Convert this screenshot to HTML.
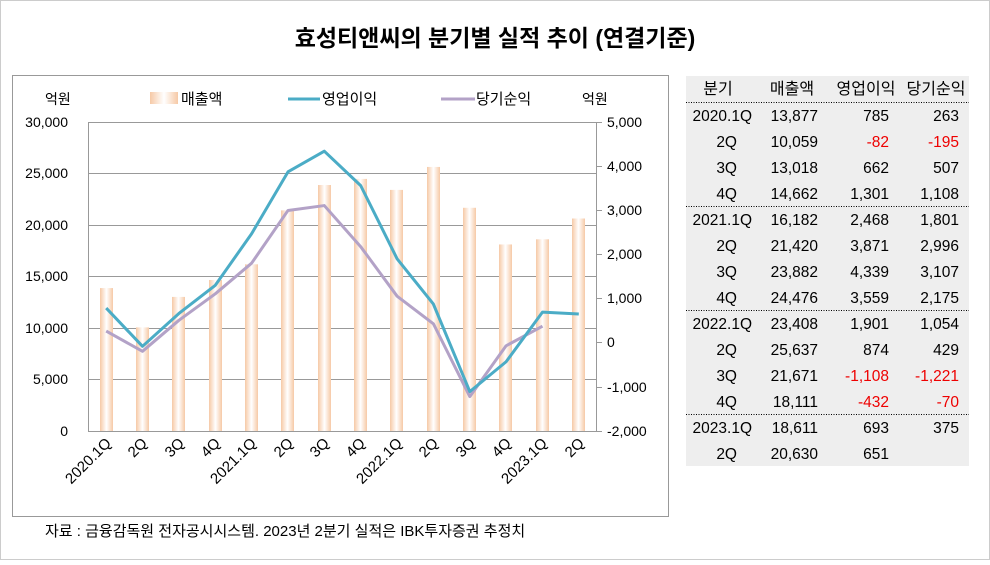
<!DOCTYPE html><html><head><meta charset="utf-8"><style>
body{margin:0;background:#fff;}
svg text{font-family:"Liberation Sans","Noto Sans CJK KR",sans-serif;}
</style></head><body>
<svg width="990" height="560" xmlns="http://www.w3.org/2000/svg">
<defs>
<linearGradient id="g" x1="0" x2="1" y1="0" y2="0">
<stop offset="0" stop-color="#f6c9a6"/><stop offset="0.5" stop-color="#fff"/><stop offset="1" stop-color="#f6c9a6"/>
</linearGradient>
</defs>
<rect x="0.5" y="0.5" width="989" height="559" fill="#fff" stroke="#ccc"/>
<text x="495" y="46" font-size="23" font-weight="bold" text-anchor="middle">효성티앤씨의 분기별 실적 추이 (연결기준)</text>
<rect x="12.5" y="75.5" width="656" height="441" fill="none" stroke="#999"/>
<g stroke="#999" stroke-width="1">
<line x1="88" x2="597" y1="122.5" y2="122.5"/>
<line x1="88" x2="597" y1="173.5" y2="173.5"/>
<line x1="88" x2="597" y1="225.5" y2="225.5"/>
<line x1="88" x2="597" y1="276.5" y2="276.5"/>
<line x1="88" x2="597" y1="328.5" y2="328.5"/>
<line x1="88" x2="597" y1="379.5" y2="379.5"/>
<line x1="88" x2="597" y1="431.5" y2="431.5"/>
<line x1="88.5" x2="88.5" y1="122" y2="431"/>
<line x1="596.5" x2="596.5" y1="122" y2="431"/>
<line x1="597" x2="602" y1="122.5" y2="122.5"/><line x1="597" x2="602" y1="166.5" y2="166.5"/><line x1="597" x2="602" y1="210.5" y2="210.5"/><line x1="597" x2="602" y1="254.5" y2="254.5"/><line x1="597" x2="602" y1="298.5" y2="298.5"/><line x1="597" x2="602" y1="342.5" y2="342.5"/><line x1="597" x2="602" y1="387.5" y2="387.5"/><line x1="597" x2="602" y1="431.5" y2="431.5"/>
</g>
<g font-size="14" text-anchor="end">
<text x="68" y="127">30,000</text><text x="68" y="178">25,000</text><text x="68" y="230">20,000</text><text x="68" y="281">15,000</text><text x="68" y="333">10,000</text><text x="68" y="384">5,000</text><text x="68" y="436">0</text>
</g>
<g font-size="14" text-anchor="start">
<text x="607" y="127">5,000</text><text x="607" y="171">4,000</text><text x="607" y="215">3,000</text><text x="607" y="259">2,000</text><text x="607" y="303">1,000</text><text x="607" y="347">0</text><text x="607" y="392">-1,000</text><text x="607" y="436">-2,000</text>
</g>
<text x="45" y="104" font-size="14">억원</text>
<text x="582" y="104" font-size="14">억원</text>
<rect x="150" y="92" width="28" height="12" fill="url(#g)"/><text x="181" y="104" font-size="15">매출액</text>
<line x1="288" x2="320" y1="99" y2="99" stroke="#4bacc6" stroke-width="3"/><text x="322" y="104" font-size="15">영업이익</text>
<line x1="441" x2="475" y1="99" y2="99" stroke="#b3a2c7" stroke-width="3"/><text x="476" y="104" font-size="15">당기순익</text>
<g transform="translate(0,431) scale(1,-0.0103)" fill="url(#g)">
<rect x="100" y="0" width="13" height="13877"/>
<rect x="136" y="0" width="13" height="10059"/>
<rect x="172" y="0" width="13" height="13018"/>
<rect x="209" y="0" width="13" height="14662"/>
<rect x="245" y="0" width="13" height="16182"/>
<rect x="281" y="0" width="13" height="21420"/>
<rect x="318" y="0" width="13" height="23882"/>
<rect x="354" y="0" width="13" height="24476"/>
<rect x="390" y="0" width="13" height="23408"/>
<rect x="427" y="0" width="13" height="25637"/>
<rect x="463" y="0" width="13" height="21671"/>
<rect x="499" y="0" width="13" height="18111"/>
<rect x="536" y="0" width="13" height="18611"/>
<rect x="572" y="0" width="13" height="20630"/>
</g>
<g transform="translate(0,342.7) scale(1,-0.04414)" fill="none" stroke-width="3" stroke-linejoin="round">
<polyline vector-effect="non-scaling-stroke" stroke="#b3a2c7" points="106.2,263 142.5,-195 178.9,507 215.3,1108 251.6,1801 288,2996 324.3,3107 360.7,2175 397.1,1054 433.4,429 469.8,-1221 506.1,-70 542.5,375"/>
<polyline vector-effect="non-scaling-stroke" stroke="#4bacc6" points="106.2,785 142.5,-82 178.9,662 215.3,1301 251.6,2468 288,3871 324.3,4339 360.7,3559 397.1,1901 433.4,874 469.8,-1108 506.1,-432 542.5,693 578.8,651"/>
</g>
<g font-size="15" text-anchor="end">
<text transform="translate(112,444) rotate(-45)">2020.1Q</text>
<text transform="translate(148,444) rotate(-45)">2Q</text>
<text transform="translate(185,444) rotate(-45)">3Q</text>
<text transform="translate(221,444) rotate(-45)">4Q</text>
<text transform="translate(257,444) rotate(-45)">2021.1Q</text>
<text transform="translate(294,444) rotate(-45)">2Q</text>
<text transform="translate(330,444) rotate(-45)">3Q</text>
<text transform="translate(366,444) rotate(-45)">4Q</text>
<text transform="translate(403,444) rotate(-45)">2022.1Q</text>
<text transform="translate(439,444) rotate(-45)">2Q</text>
<text transform="translate(476,444) rotate(-45)">3Q</text>
<text transform="translate(512,444) rotate(-45)">4Q</text>
<text transform="translate(548,444) rotate(-45)">2023.1Q</text>
<text transform="translate(585,444) rotate(-45)">2Q</text>
</g>
<text x="45" y="536" font-size="15">자료 : 금융감독원 전자공시시스템. 2023년 2분기 실적은 IBK투자증권 추정치</text>
<rect x="686" y="76" width="283" height="390" fill="#eeeeee"/>
<g stroke="#000" stroke-dasharray="1,1.5" stroke-width="1">
<line x1="686" x2="969" y1="102.5" y2="102.5"/><line x1="686" x2="969" y1="206.5" y2="206.5"/><line x1="686" x2="969" y1="310.5" y2="310.5"/><line x1="686" x2="969" y1="414.5" y2="414.5"/>
</g>
<g font-size="16">
<text x="718" y="94" text-anchor="middle">분기</text><text x="792" y="94" text-anchor="middle">매출액</text><text x="866" y="94" text-anchor="middle">영업이익</text><text x="936" y="94" text-anchor="middle">당기순익</text>
</g>
<g font-size="15.5" text-anchor="end">
<g transform="translate(0,121)"><text x="752">2020.1Q</text><text x="818">13,877</text><text x="889">785</text><text x="959">263</text></g>
<g transform="translate(0,147)"><text x="737">2Q</text><text x="818">10,059</text><text x="889" fill="#e00">-82</text><text x="959" fill="#e00">-195</text></g>
<g transform="translate(0,173)"><text x="737">3Q</text><text x="818">13,018</text><text x="889">662</text><text x="959">507</text></g>
<g transform="translate(0,199)"><text x="737">4Q</text><text x="818">14,662</text><text x="889">1,301</text><text x="959">1,108</text></g>
<g transform="translate(0,225)"><text x="752">2021.1Q</text><text x="818">16,182</text><text x="889">2,468</text><text x="959">1,801</text></g>
<g transform="translate(0,251)"><text x="737">2Q</text><text x="818">21,420</text><text x="889">3,871</text><text x="959">2,996</text></g>
<g transform="translate(0,277)"><text x="737">3Q</text><text x="818">23,882</text><text x="889">4,339</text><text x="959">3,107</text></g>
<g transform="translate(0,303)"><text x="737">4Q</text><text x="818">24,476</text><text x="889">3,559</text><text x="959">2,175</text></g>
<g transform="translate(0,329)"><text x="752">2022.1Q</text><text x="818">23,408</text><text x="889">1,901</text><text x="959">1,054</text></g>
<g transform="translate(0,355)"><text x="737">2Q</text><text x="818">25,637</text><text x="889">874</text><text x="959">429</text></g>
<g transform="translate(0,381)"><text x="737">3Q</text><text x="818">21,671</text><text x="889" fill="#e00">-1,108</text><text x="959" fill="#e00">-1,221</text></g>
<g transform="translate(0,407)"><text x="737">4Q</text><text x="818">18,111</text><text x="889" fill="#e00">-432</text><text x="959" fill="#e00">-70</text></g>
<g transform="translate(0,433)"><text x="752">2023.1Q</text><text x="818">18,611</text><text x="889">693</text><text x="959">375</text></g>
<g transform="translate(0,459)"><text x="737">2Q</text><text x="818">20,630</text><text x="889">651</text></g>
</g>
</svg>
</body></html>
